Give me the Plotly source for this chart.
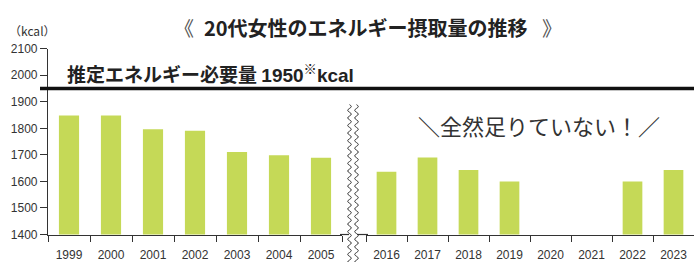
import numpy as np
import plotly.graph_objects as go

W, H = 700, 269

years_a = ["1999", "2000", "2001", "2002", "2003", "2004", "2005"]
vals_a = [1848, 1848, 1797, 1791, 1711, 1699, 1689]
years_b = ["2016", "2017", "2018", "2019", "2020", "2021", "2022", "2023"]
vals_b = [1636, 1690, 1643, 1600, None, None, 1600, 1643]
y_ticks = [1400, 1500, 1600, 1700, 1800, 1900, 2000, 2100]
target = 1950

title_text = "<b>20代女性のエネルギー摂取量の推移</b>"
title_left = "《"
title_right = "》"
unit_text = "（kcal）"
target_text = ("<b>推定エネルギー必要量 <span style='font-family:Liberation Sans'>1950</span>"
               "<sup>※</sup><span style='font-family:Liberation Sans'>kcal</span></b>")
comment_text = "＼全然足りていない！／"

BAR = "#c5d957"
INK = "#222222"
JP = "Noto Sans CJK JP"
LAT = "Liberation Sans, Arial, sans-serif"


def px(x):
    return x / W


def py(y):
    return 1 - y / H


fig = go.Figure()
fig.add_bar(x=years_a, y=vals_a, xaxis="x", yaxis="y", marker_color=BAR,
            marker_line_width=0, showlegend=False, hoverinfo="x+y")
fig.add_bar(x=years_b, y=vals_b, xaxis="x2", yaxis="y", marker_color=BAR,
            marker_line_width=0, showlegend=False, hoverinfo="x+y")

axis_common = dict(
    type="category", showline=True, linecolor="#333", linewidth=1.2,
    ticks="outside", tickson="boundaries", ticklen=6, tickcolor="#333",
    tickwidth=1.2, showgrid=False, zeroline=False, anchor="y",
    ticklabelstandoff=9,
    tickfont=dict(family=LAT, size=12, color="#333"), fixedrange=True,
)

fig.update_layout(
    width=W, height=H,
    margin=dict(l=0, r=0, t=0, b=0),
    paper_bgcolor="white", plot_bgcolor="rgba(0,0,0,0)",
    barmode="overlay", bargap=0.52,
    xaxis=dict(domain=[px(48), px(342)], **axis_common),
    xaxis2=dict(domain=[px(366), px(694)], **axis_common),
    yaxis=dict(
        domain=[py(240), py(44)], range=[1400, 2100], tickvals=y_ticks,
        showline=True, linecolor="#333", linewidth=1.2, ticks="outside",
        ticklen=7, tickcolor="#333", tickwidth=1.2, showgrid=False,
        zeroline=False, anchor="x",
        tickfont=dict(family=LAT, size=12, color="#333"), fixedrange=True,
    ),
    font=dict(family=JP),
)

shapes = []
# axis line continuation across break
shapes.append(dict(type="line", xref="paper", yref="paper",
                   x0=px(340), x1=px(368), y0=py(240), y1=py(240),
                   line=dict(color="#333", width=1.2)))
# target line
shapes.append(dict(type="line", xref="paper", yref="y",
                   x0=px(40), x1=px(694), y0=target, y1=target,
                   line=dict(color="#111", width=3.5)))
# break mask
shapes.append(dict(type="rect", xref="paper", yref="paper",
                   x0=px(349), x1=px(357), y0=py(269), y1=py(103),
                   fillcolor="white", line=dict(width=0)))
# wavy break lines
ys = np.arange(103, 269.5, 1.0)
for cx in (349.5, 356.5):
    xs = cx + 1.8 * np.sin((ys - 103) / 8.0 * 2 * np.pi)
    path = "M " + " L ".join(f"{px(x):.5f},{py(y):.5f}" for x, y in zip(xs, ys))
    shapes.append(dict(type="path", xref="paper", yref="paper", path=path,
                       line=dict(color="#333", width=1)))
fig.update_layout(shapes=shapes)

annotations = [
    dict(text=title_left, x=px(184), y=py(22), xref="paper", yref="paper",
         xanchor="center", yanchor="middle", showarrow=False,
         font=dict(family=JP, size=20, color="#555")),
    dict(text=title_text, x=px(366), y=py(22), xref="paper", yref="paper",
         xanchor="center", yanchor="middle", showarrow=False,
         font=dict(family=JP, size=20, color=INK)),
    dict(text=title_right, x=px(552), y=py(22), xref="paper", yref="paper",
         xanchor="center", yanchor="middle", showarrow=False,
         font=dict(family=JP, size=20, color="#555")),
    dict(text=unit_text, x=px(32), y=py(25), xref="paper", yref="paper",
         xanchor="center", yanchor="middle", showarrow=False,
         font=dict(family=JP, size=12, color="#333")),
    dict(text=target_text, x=px(65), y=py(70), xref="paper", yref="paper",
         xanchor="left", yanchor="middle", showarrow=False,
         font=dict(family=JP, size=19, color=INK)),
    dict(text=comment_text, x=px(539), y=py(124), xref="paper", yref="paper",
         xanchor="center", yanchor="middle", showarrow=False,
         font=dict(family=JP, size=22, color="#333")),
]
fig.update_layout(annotations=annotations)

fig.write_html("out.html")
